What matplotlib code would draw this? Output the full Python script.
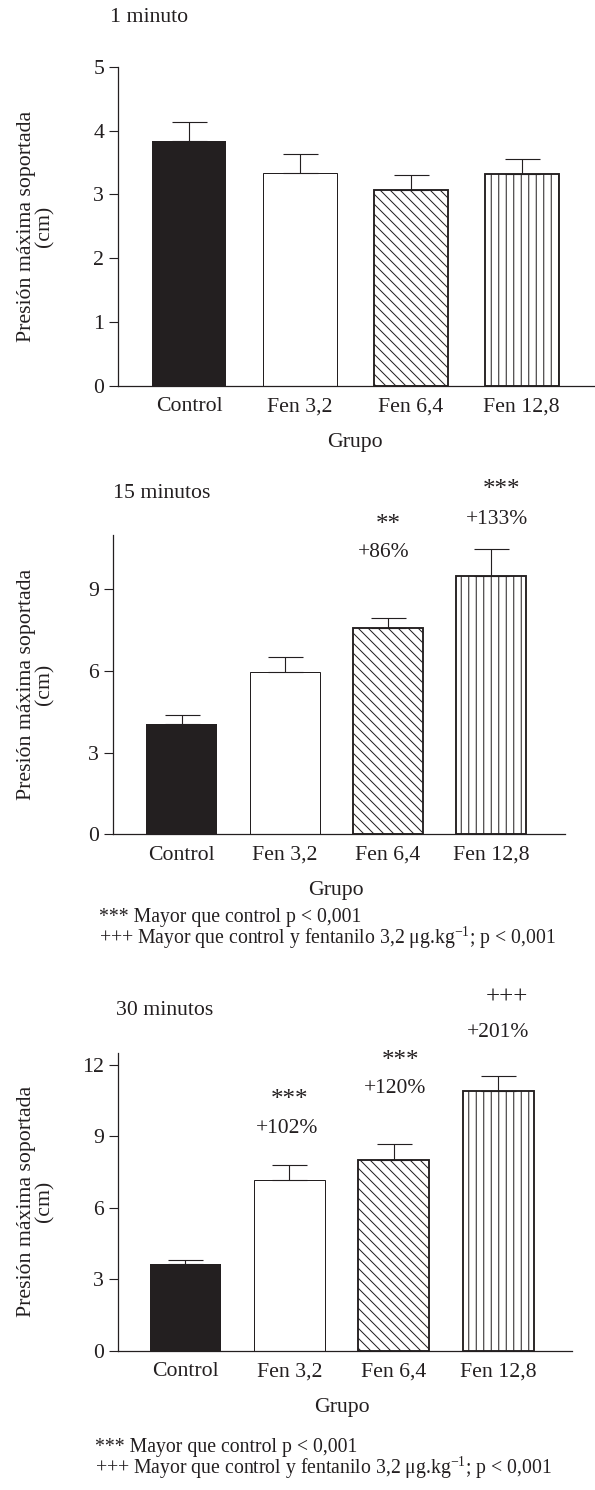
import numpy as np
import matplotlib
matplotlib.use("Agg")
import matplotlib.pyplot as plt

plt.rcParams['font.family'] = ['Liberation Serif', 'DejaVu Serif']
plt.rcParams['mathtext.fontset'] = 'custom'
plt.rcParams['mathtext.rm'] = 'Liberation Serif'
plt.rcParams['hatch.linewidth'] = 0.8

# --- data ---
grupos = ['Control', 'Fen 3,2', 'Fen 6,4', 'Fen 12,8']

media_1min = [3.84, 3.34, 3.07, 3.32]
err_1min = [0.30, 0.30, 0.24, 0.24]

media_15min = [4.06, 5.97, 7.57, 9.50]
err_15min = [0.31, 0.55, 0.39, 0.97]

media_30min = [3.63, 7.16, 7.99, 10.89]
err_30min = [0.18, 0.65, 0.67, 0.63]

yticks_1min = [0, 1, 2, 3, 4, 5]
yticks_15min = [0, 3, 6, 9]
yticks_30min = [0, 3, 6, 9, 12]

# (x, texto, y, tamaño)
anot_15min = [(2.0, '**', 11.35, 20), (1.96, '+86%', 10.36, 17.2),
              (3.1, '***', 12.65, 20), (3.06, '+133%', 11.58, 17.2)]
anot_30min = [(1.0, '***', 10.5, 20), (0.98, '+102%', 9.33, 17.2),
              (2.06, '***', 12.15, 20), (2.01, '+120%', 11.0, 17.2),
              (3.08, '+++', 14.81, 20), (3.0, '+201%', 13.35, 17.2)]

nota1 = '*** Mayor que control p < 0,001'
nota2 = '+++ Mayor que control y fentanilo 3,2 μg.kg$^{-1}$; p < 0,001'

# --- layout (pixels) ---
W, H, DPI = 595, 1490, 90
INK = '#231f20'
FS = 17.4

fig = plt.figure(figsize=(W / DPI, H / DPI), dpi=DPI)
fig.patch.set_facecolor('white')


def px_rect(left, right, top, bottom):
    return [left / W, 1 - bottom / H, (right - left) / W, (bottom - top) / H]


def panel(rect, xlim, ylim, medias, errs, yticks, width, titulo, tpos):
    ax = fig.add_axes(rect)
    x = np.arange(len(grupos))
    faces = [INK, 'white', 'white', 'white']
    hatches = [None, None, '\\\\\\', '||']
    lws = [0, 0.8, 1.5, 1.5]
    for i in range(len(grupos)):
        ax.bar(x[i], medias[i], width=width, color=faces[i], edgecolor=INK,
               hatch=hatches[i], linewidth=lws[i], zorder=2)
    ax.errorbar(x, medias, yerr=[np.zeros(len(errs)), errs], fmt='none',
                ecolor=INK, elinewidth=0.9, capsize=14, capthick=0.9, zorder=3)
    ax.set_xlim(*xlim)
    ax.set_ylim(*ylim)
    ax.set_yticks(yticks)
    ax.set_xticks(x)
    ax.set_xticklabels(grupos, fontsize=FS, color=INK)
    ax.tick_params(axis='x', length=0, pad=9)
    ax.tick_params(axis='y', length=7, width=0.9, pad=4, labelsize=FS,
                   colors=INK, direction='out')
    for s in ['top', 'right']:
        ax.spines[s].set_visible(False)
    for s in ['left', 'bottom']:
        ax.spines[s].set_linewidth(1.0)
        ax.spines[s].set_color(INK)
    ax.set_facecolor('none')
    ax.annotate('Grupo', xy=(1.5, 0), xycoords=('data', 'axes fraction'),
                xytext=(0, -56 * 72 / DPI), textcoords='offset points',
                ha='center', va='center', fontsize=FS, color=INK)
    fig.text(tpos[0] / W, 1 - tpos[1] / H, titulo, ha='left', va='center',
             fontsize=FS, color=INK)
    ycen = 1 - (rect[1] + rect[3] / 2)
    fig.text(36 / W, 1 - ycen, 'Presión máxima soportada\n(cm)', rotation=90,
             ha='center', va='center', multialignment='center',
             linespacing=0.95, fontsize=FS, color=INK)
    return ax


ax1 = panel(px_rect(118, 595, 66.7, 386), (-0.64, 3.66), (0, 5),
            media_1min, err_1min, yticks_1min, 0.667, '1 minuto', (110, 18))
ax2 = panel(px_rect(113, 565, 535, 834.3), (-0.664, 3.716), (0, 11),
            media_15min, err_15min, yticks_15min, 0.68, '15 minutos', (113, 493))
ax3 = panel(px_rect(118, 572, 1052.7, 1351), (-0.642, 3.707), (0, 12.5),
            media_30min, err_30min, yticks_30min, 0.68, '30 minutos', (116, 1010))

for ax, anots in [(ax2, anot_15min), (ax3, anot_30min)]:
    for xa, txt, ya, fs in anots:
        ax.text(xa, ya, txt, ha='center', va='center', fontsize=fs, color=INK)

for left, y1 in [(99, 917), (95, 1447)]:
    fig.text(left / W, 1 - y1 / H, nota1, ha='left', va='center',
             fontsize=15.8, color=INK)
    fig.text(left / W, 1 - (y1 + 21) / H, nota2, ha='left', va='center',
             fontsize=15.8, color=INK)

fig.savefig('out.png', dpi=DPI, facecolor='white')
